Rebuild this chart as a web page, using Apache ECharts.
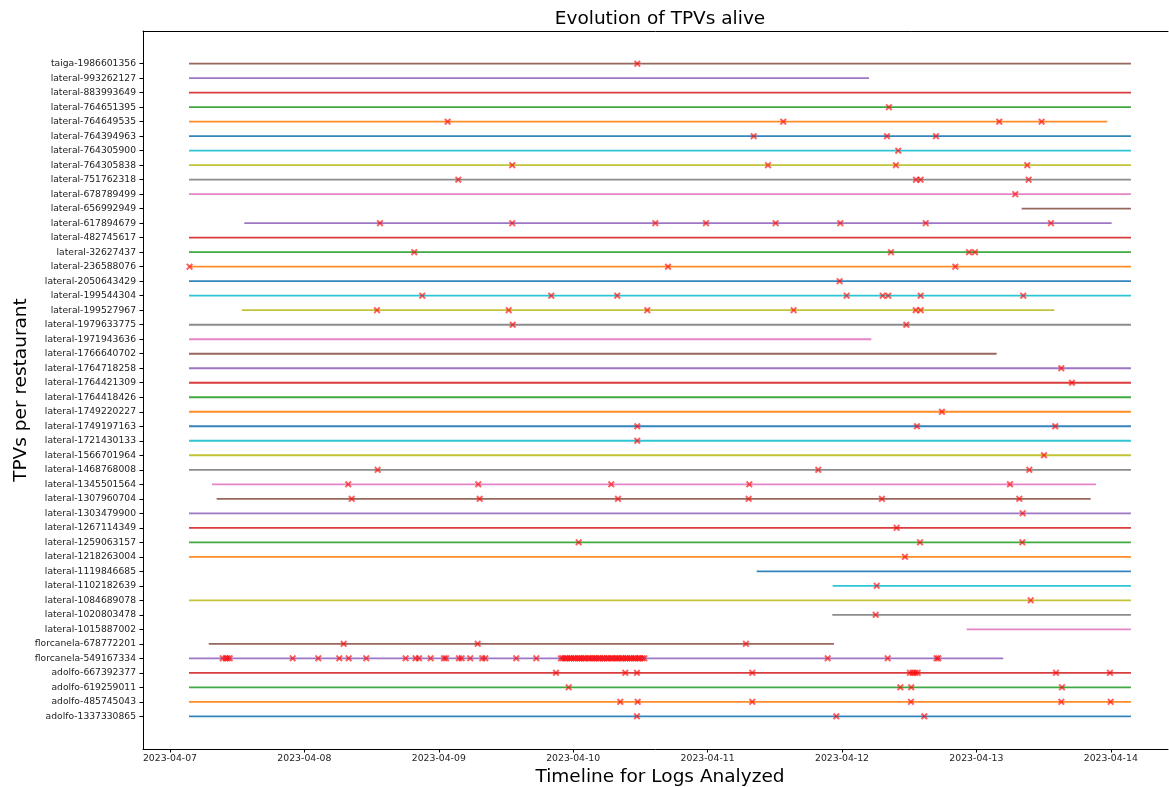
<!DOCTYPE html>
<html>
<head>
<meta charset="utf-8">
<script src="https://cdn.jsdelivr.net/npm/echarts@6/dist/echarts.min.js"></script>
<style>html,body{margin:0;padding:0;background:#fff}#chart{width:1169px;height:787px}</style>
</head>
<body>
<div id="chart"></div>
<script>
// Restaurants, bottom (index 0) to top
const categories = [
  'adolfo-1337330865','adolfo-485745043','adolfo-619259011','adolfo-667392377',
  'florcanela-549167334','florcanela-678772201',
  'lateral-1015887002','lateral-1020803478','lateral-1084689078','lateral-1102182639',
  'lateral-1119846685','lateral-1218263004','lateral-1259063157','lateral-1267114349',
  'lateral-1303479900','lateral-1307960704','lateral-1345501564','lateral-1468768008',
  'lateral-1566701964','lateral-1721430133','lateral-1749197163','lateral-1749220227',
  'lateral-1764418426','lateral-1764421309','lateral-1764718258','lateral-1766640702',
  'lateral-1971943636','lateral-1979633775','lateral-199527967','lateral-199544304',
  'lateral-2050643429','lateral-236588076','lateral-32627437','lateral-482745617',
  'lateral-617894679','lateral-656992949','lateral-678789499','lateral-751762318',
  'lateral-764305838','lateral-764305900','lateral-764394963','lateral-764649535',
  'lateral-764651395','lateral-883993649','lateral-993262127','taiga-1986601356'
];

// First and last time each TPV is seen alive
const starts = [
  '2023-04-07 03:24','2023-04-07 03:24','2023-04-07 03:24','2023-04-07 03:24',
  '2023-04-07 03:24','2023-04-07 06:55',
  '2023-04-12 22:16','2023-04-11 22:16','2023-04-07 03:24','2023-04-11 22:20',
  '2023-04-11 08:46','2023-04-07 03:24','2023-04-07 03:24','2023-04-07 03:24',
  '2023-04-07 03:24','2023-04-07 08:20','2023-04-07 07:30','2023-04-07 03:24',
  '2023-04-07 03:24','2023-04-07 03:24','2023-04-07 03:24','2023-04-07 03:24',
  '2023-04-07 03:24','2023-04-07 03:24','2023-04-07 03:24','2023-04-07 03:24',
  '2023-04-07 03:24','2023-04-07 03:24','2023-04-07 12:51','2023-04-07 03:24',
  '2023-04-07 03:24','2023-04-07 03:24','2023-04-07 03:24','2023-04-07 03:24',
  '2023-04-07 13:16','2023-04-13 08:05','2023-04-07 03:24','2023-04-07 03:24',
  '2023-04-07 03:24','2023-04-07 03:24','2023-04-07 03:24','2023-04-07 03:24',
  '2023-04-07 03:24','2023-04-07 03:24','2023-04-07 03:24','2023-04-07 03:24'
];
const ends = [
  '2023-04-14 03:36','2023-04-14 03:36','2023-04-14 03:36','2023-04-14 03:36',
  '2023-04-13 04:48','2023-04-11 22:34',
  '2023-04-14 03:36','2023-04-14 03:36','2023-04-14 03:36','2023-04-14 03:36',
  '2023-04-14 03:36','2023-04-14 03:36','2023-04-14 03:36','2023-04-14 03:36',
  '2023-04-14 03:36','2023-04-13 20:24','2023-04-13 21:21','2023-04-14 03:36',
  '2023-04-14 03:36','2023-04-14 03:36','2023-04-14 03:36','2023-04-14 03:36',
  '2023-04-14 03:36','2023-04-14 03:36','2023-04-14 03:36','2023-04-13 03:37',
  '2023-04-12 05:14','2023-04-14 03:36','2023-04-13 13:54','2023-04-14 03:36',
  '2023-04-14 03:36','2023-04-14 03:36','2023-04-14 03:36','2023-04-14 03:36',
  '2023-04-14 00:09','2023-04-14 03:36','2023-04-14 03:36','2023-04-14 03:36',
  '2023-04-14 03:36','2023-04-14 03:36','2023-04-14 03:36','2023-04-13 23:22',
  '2023-04-14 03:36','2023-04-14 03:36','2023-04-12 04:49','2023-04-14 03:36'
];

// Events (red x marks) per restaurant, same order as categories
const events = [
  ['2023-04-10 11:23','2023-04-11 22:59','2023-04-12 14:42'],
  ['2023-04-10 08:25','2023-04-10 11:31','2023-04-11 07:59','2023-04-12 12:19','2023-04-13 15:10','2023-04-13 23:59'],
  ['2023-04-09 23:12','2023-04-12 10:25','2023-04-12 12:22','2023-04-13 15:17'],
  ['2023-04-09 20:56','2023-04-10 09:18','2023-04-10 11:23','2023-04-11 07:59','2023-04-12 12:08','2023-04-12 12:37','2023-04-12 13:05','2023-04-12 13:31','2023-04-13 14:13','2023-04-13 23:51'],
  ['2023-04-07 09:25','2023-04-07 09:57','2023-04-07 10:18','2023-04-07 10:40','2023-04-07 21:55','2023-04-08 02:29','2023-04-08 06:14','2023-04-08 07:55','2023-04-08 11:03','2023-04-08 18:05','2023-04-08 19:52','2023-04-08 20:28','2023-04-08 22:33','2023-04-09 00:56','2023-04-09 01:17','2023-04-09 03:36','2023-04-09 04:05','2023-04-09 05:37','2023-04-09 07:46','2023-04-09 08:18','2023-04-09 13:50','2023-04-09 17:25',
   '2023-04-09 21:49','2023-04-09 22:10','2023-04-09 22:35','2023-04-09 22:55','2023-04-09 23:20','2023-04-09 23:40','2023-04-10 00:05','2023-04-10 00:25','2023-04-10 00:50','2023-04-10 01:10','2023-04-10 01:30','2023-04-10 01:55','2023-04-10 02:15','2023-04-10 02:40','2023-04-10 03:00','2023-04-10 03:25','2023-04-10 03:45','2023-04-10 04:05','2023-04-10 04:30','2023-04-10 04:50','2023-04-10 05:15','2023-04-10 05:35','2023-04-10 06:00','2023-04-10 06:20','2023-04-10 06:45','2023-04-10 07:05','2023-04-10 07:30','2023-04-10 07:50','2023-04-10 08:10','2023-04-10 08:35','2023-04-10 08:55','2023-04-10 09:20','2023-04-10 09:40','2023-04-10 10:05','2023-04-10 10:25','2023-04-10 10:50','2023-04-10 11:10','2023-04-10 11:35','2023-04-10 11:55','2023-04-10 12:20','2023-04-10 12:42',
   '2023-04-11 21:27','2023-04-12 08:10','2023-04-12 16:54','2023-04-12 17:12'],
  ['2023-04-08 07:01','2023-04-09 06:57','2023-04-11 06:51'],
  [],
  ['2023-04-12 06:01'],
  ['2023-04-13 09:42'],
  ['2023-04-12 06:12'],
  [],
  ['2023-04-12 11:15'],
  ['2023-04-10 00:59','2023-04-12 13:56','2023-04-13 08:12'],
  ['2023-04-12 09:46'],
  ['2023-04-13 08:16'],
  ['2023-04-08 08:27','2023-04-09 07:18','2023-04-10 08:00','2023-04-11 07:20','2023-04-12 07:08','2023-04-13 07:40'],
  ['2023-04-08 07:50','2023-04-09 07:03','2023-04-10 06:48','2023-04-11 07:27','2023-04-13 06:00'],
  ['2023-04-08 13:05','2023-04-11 19:46','2023-04-13 09:27'],
  ['2023-04-13 12:04'],
  ['2023-04-10 11:27'],
  ['2023-04-10 11:27','2023-04-12 13:23','2023-04-13 14:05'],
  ['2023-04-12 17:51'],
  [],
  ['2023-04-13 17:04'],
  ['2023-04-13 15:10'],
  [],
  [],
  ['2023-04-09 13:12','2023-04-12 11:29'],
  ['2023-04-08 12:58','2023-04-09 12:29','2023-04-10 13:14','2023-04-11 15:22','2023-04-12 13:10','2023-04-12 14:03'],
  ['2023-04-08 21:03','2023-04-09 20:05','2023-04-10 07:52','2023-04-12 00:50','2023-04-12 07:16','2023-04-12 08:16','2023-04-12 14:03','2023-04-13 08:22'],
  ['2023-04-11 23:35'],
  ['2023-04-07 03:30','2023-04-10 16:56','2023-04-12 20:14'],
  ['2023-04-08 19:37','2023-04-12 08:45','2023-04-12 22:41','2023-04-12 23:45'],
  [],
  ['2023-04-08 13:30','2023-04-09 13:07','2023-04-10 14:40','2023-04-10 23:43','2023-04-11 12:09','2023-04-11 23:42','2023-04-12 14:57','2023-04-13 13:19'],
  [],
  ['2023-04-13 06:57'],
  ['2023-04-09 03:29','2023-04-12 13:13','2023-04-12 14:03','2023-04-13 09:20'],
  ['2023-04-09 13:07','2023-04-11 10:47','2023-04-12 09:38','2023-04-13 09:05'],
  ['2023-04-12 10:03'],
  ['2023-04-11 08:14','2023-04-12 08:02','2023-04-12 16:47'],
  ['2023-04-09 01:35','2023-04-11 13:31','2023-04-13 04:05','2023-04-13 11:39'],
  ['2023-04-12 08:23'],
  [],
  [],
  ['2023-04-10 11:27']
];

const xTickLabels = ['2023-04-07','2023-04-08','2023-04-09','2023-04-10','2023-04-11','2023-04-12','2023-04-13','2023-04-14'];
const xRange = ['2023-04-06 19:11','2023-04-14 10:13'];

const palette = ['#1f77b4','#ff7f0e','#2ca02c','#d62728','#9467bd','#8c564b','#e377c2','#7f7f7f','#bcbd22','#17becf'];

function ts(s) {
  const [d, t] = s.split(' ');
  const [Y, M, D] = d.split('-').map(Number);
  const [h, m] = (t || '00:00').split(':').map(Number);
  return Date.UTC(Y, M - 1, D, h, m);
}
function fmt(v) {
  const d = new Date(v);
  const p = n => String(n).padStart(2, '0');
  return d.getUTCFullYear() + '-' + p(d.getUTCMonth() + 1) + '-' + p(d.getUTCDate());
}

const FONT = 'DejaVu Sans';
const series = categories.map((name, i) => ({
  name: name,
  type: 'line',
  data: [[ts(starts[i]), i], [ts(ends[i]), i]],
  showSymbol: false,
  symbol: 'none',
  silent: true,
  lineStyle: { color: palette[i % 10], width: 1.8, opacity: 0.9 },
  z: 2
}));
const marks = [];
events.forEach((arr, i) => arr.forEach(s => marks.push([ts(s), i])));
series.push({
  type: 'scatter',
  data: marks,
  symbol: 'path://M0,2L2,0L5,3L8,0L10,2L7,5L10,8L8,10L5,7L2,10L0,8L3,5Z',
  symbolSize: 7,
  itemStyle: { color: 'rgba(255,0,0,0.78)' },
  silent: true,
  z: 5
});

const chart = echarts.init(document.getElementById('chart'));
chart.setOption({
  animation: false,
  backgroundColor: '#fff',
  grid: { left: 143, top: 31, right: 1, height: 718, show: false, containLabel: false },
  xAxis: [{
    type: 'value',
    position: 'bottom',
    min: ts(xRange[0]),
    max: ts(xRange[1]),
    axisLine: { show: true, onZero: false, lineStyle: { color: '#000', width: 1 } },
    axisTick: { show: true, inside: false, length: 3.5, lineStyle: { color: '#000' }, customValues: xTickLabels.map(ts) },
    axisLabel: { customValues: xTickLabels.map(ts), formatter: v => fmt(v), fontFamily: FONT, fontSize: 9.3, color: '#222', margin: 5 },
    splitLine: { show: false }
  }, {
    type: 'value',
    position: 'top',
    min: ts(xRange[0]),
    max: ts(xRange[1]),
    axisLine: { show: true, onZero: false, lineStyle: { color: '#000', width: 1 } },
    axisTick: { show: false },
    axisLabel: { show: false },
    splitLine: { show: false }
  }],
  yAxis: {
    type: 'value',
    min: -2.25,
    max: 47.25,
    axisLine: { show: true, onZero: false, lineStyle: { color: '#000', width: 1 } },
    axisTick: { show: true, inside: false, length: 3.5, lineStyle: { color: '#000' }, customValues: categories.map((_, i) => i) },
    axisLabel: { customValues: categories.map((_, i) => i), formatter: v => categories[Math.round(v)] || '', fontFamily: FONT, fontSize: 9.2, color: '#222', margin: 7 },
    splitLine: { show: false }
  },
  graphic: [
    { type: 'text', x: 660, y: 19, style: { text: 'Evolution of TPVs alive', textAlign: 'center', textVerticalAlign: 'middle', font: '18.5px "DejaVu Sans"', fill: '#000' } },
    { type: 'text', x: 660, y: 777, style: { text: 'Timeline for Logs Analyzed', textAlign: 'center', textVerticalAlign: 'middle', font: '18.5px "DejaVu Sans"', fill: '#000' } },
    { type: 'text', x: 21, y: 390, rotation: Math.PI / 2, style: { text: 'TPVs per restaurant', textAlign: 'center', textVerticalAlign: 'middle', font: '18.5px "DejaVu Sans"', fill: '#000' } }
  ],
  series: series
});
</script>
</body>
</html>
